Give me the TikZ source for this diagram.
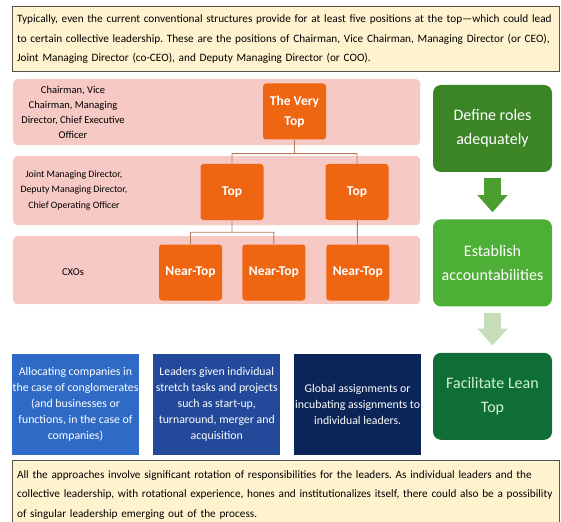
\documentclass[tikz,border=0pt]{standalone}
\usepackage{fontspec}
\setmainfont{Carlito}
\usepackage{xcolor}
\usetikzlibrary{arrows.meta,positioning}
\frenchspacing

\definecolor{noteyellow}{HTML}{FFF3CF}
\definecolor{notegray}{HTML}{55554A}
\definecolor{bandpink}{HTML}{F6C9C4}
\definecolor{postorange}{HTML}{EE6512}
\definecolor{linkbrown}{HTML}{B5795A}
\definecolor{defgreen}{HTML}{3C8526}
\definecolor{estgreen}{HTML}{4DAF35}
\definecolor{leangreen}{HTML}{0F6E35}
\definecolor{mint}{HTML}{CFF3D2}
\definecolor{arrowgreen}{HTML}{4C9E30}
\definecolor{palegreen}{HTML}{C6DDBA}
\definecolor{blueone}{HTML}{2F6BC6}
\definecolor{bluetwo}{HTML}{22499A}
\definecolor{bluethree}{HTML}{0C2558}

\begin{document}
\begin{tikzpicture}[x=1pt,y=-1pt]
        \tikzset{note/.style={draw=notegray, line width=1.2pt, fill=noteyellow, rectangle, anchor=north west,
            align=left, text width=538pt, inner sep=4.5pt, font=\fontsize{11.25}{19.5}\selectfont},
        band/.style={fill=bandpink, rectangle, rounded corners=4pt, anchor=north west, minimum width=407pt},
        rowlabel/.style={align=center, font=\fontsize{10.5}{15}\selectfont},
        post/.style={fill=postorange, rectangle, rounded corners=3pt, text=white, align=center,
            minimum width=63pt, minimum height=56pt, inner sep=2pt, font=\fontsize{13.5}{20}\selectfont\bfseries},
        stage/.style={rectangle, rounded corners=8pt, text=white, align=center,
            minimum width=119pt, minimum height=87pt, font=\fontsize{16}{24}\selectfont},
        route/.style={rectangle, text=white, align=center, minimum width=127pt, minimum height=101pt,
            inner sep=1pt, font=\fontsize{11.8}{16}\selectfont},
        link/.style={draw=linkbrown, line width=0.9pt},
        flow/.style={line width=17pt, -{Triangle[width=29pt,length=17pt]}, shorten <=6pt, shorten >=7pt}
        }
        \useasboundingbox (0,0) rectangle (561,521);

        \node [note, minimum height=65pt] (intro) at (12,6) {Typically, even the current conventional structures provide for at least five positions at the top—which could lead\\to certain collective leadership. These are the positions of Chairman, Vice Chairman, Managing Director (or CEO),\\Joint Managing Director (co-CEO), and Deputy Managing Director (or COO).};

        %% the three levels
        \node [band, minimum height=66pt] (band1) at (13,79) {};
        \node [band, minimum height=69pt] (band2) at (13,156) {};
        \node [band, minimum height=68pt] (band3) at (13,236) {};
        \node [rowlabel] (lbl1) at (73,112.5) {Chairman, Vice\\Chairman, Managing\\Director, Chief Executive\\Officer};
        \node [rowlabel, font=\fontsize{9.8}{15.5}\selectfont] (lbl2) at (74,190) {Joint Managing Director,\\Deputy Managing Director,\\Chief Operating Officer};
        \node [rowlabel] (lbl3) at (73,272) {CXOs};

        \node [post] (verytop) at (294.5,111.5) {The Very\\Top};
        \node [post] (topL) at (232,192) {Top};
        \node [post] (topR) at (357,192) {Top};
        \node [post] (near1) at (190.5,272.5) {Near-Top};
        \node [post, right=20pt of near1] (near2) {Near-Top};
        \node [post, right=20.5pt of near2] (near3) {Near-Top};

        %% steps on the right
        \node [stage, fill=defgreen] (define) at (492.5,128.5) {Define roles\\adequately};
        \node [stage, fill=estgreen, below=47pt of define] (establish) {Establish\\accountabilities};
        \node [stage, fill=leangreen, text=mint, below=46pt of establish] (lean) {Facilitate Lean\\Top};

        %% approaches
        \node [route, fill=blueone] (alloc) at (75.5,404.5) {Allocating companies in\\the case of conglomerates\\(and businesses or\\functions, in the case of\\companies)};
        \node [route, fill=bluetwo, right=13.5pt of alloc] (stretch) {Leaders given individual\\stretch tasks and projects\\such as start-up,\\turnaround, merger and\\acquisition};
        \node [route, fill=bluethree, right=13.5pt of stretch] (global) {Global assignments or\\incubating assignments to\\individual leaders.};

        \node [note, minimum height=68pt] (summary) at (12,460) {All the approaches involve significant rotation of responsibilities for the leaders. As individual leaders and the\\collective leadership, with rotational experience, hones and institutionalizes itself, there could also be a possibility\\of singular leadership emerging out of the process.};

%% paths
        \path[link] (verytop.south) -- ++(0,14) coordinate (fork1) -| (topL.north)
                    (fork1) -| (topR.north)
                    (topL.south) -- ++(0,12) coordinate (fork2) -| (near1.north)
                    (fork2) -| (near2.north)
                    (topR) -- (near3);
        \draw[flow, draw=arrowgreen] (define) -- (establish);
        \draw[flow, draw=palegreen] (establish) -- (lean);
    \end{tikzpicture}
\end{document}
